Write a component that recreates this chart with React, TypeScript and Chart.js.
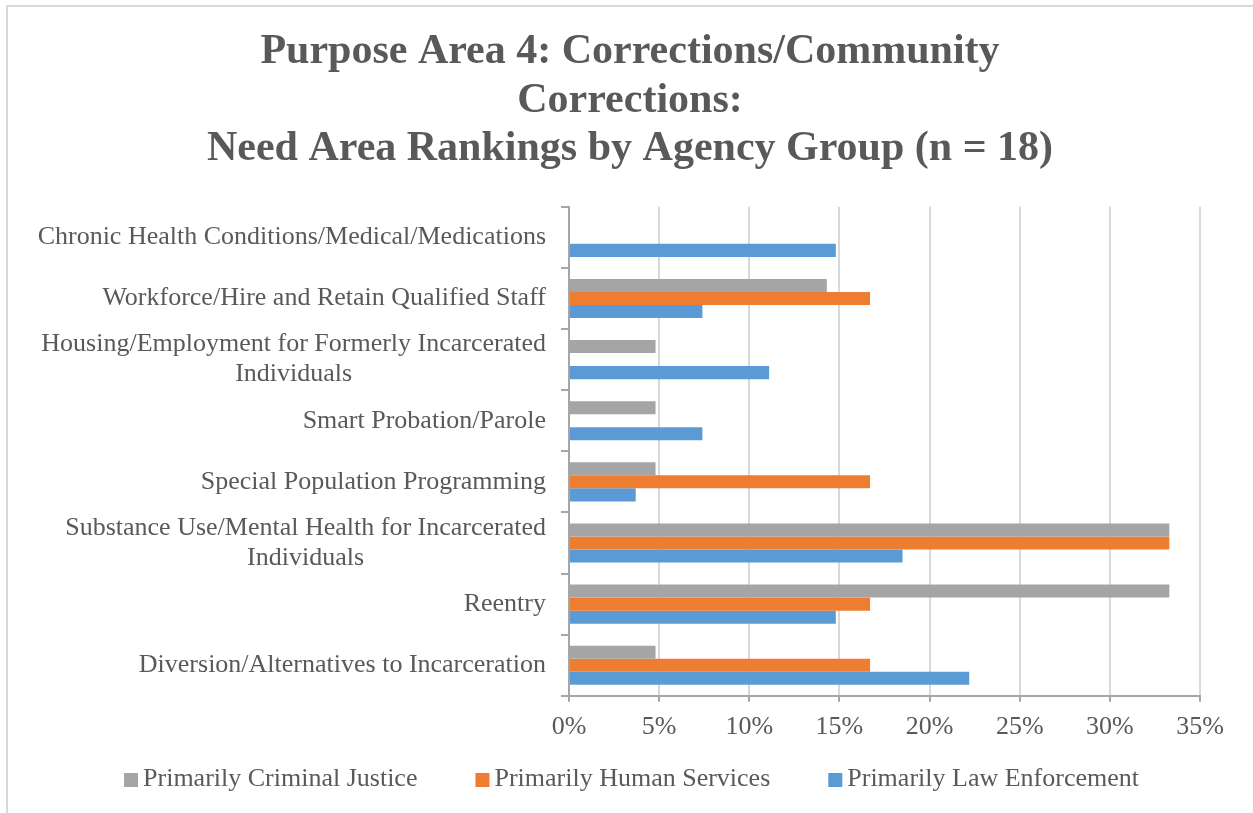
import React, { useEffect, useRef } from 'react';
import { Chart, registerables } from 'chart.js';

Chart.register(...registerables);

const titleLines = [
  'Purpose Area 4: Corrections/Community',
  'Corrections:',
  'Need Area Rankings by Agency Group (n = 18)',
];

const categories: string[][] = [
  ['Chronic Health Conditions/Medical/Medications'],
  ['Workforce/Hire and Retain Qualified Staff'],
  ['Housing/Employment for Formerly Incarcerated', 'Individuals'],
  ['Smart Probation/Parole'],
  ['Special Population Programming'],
  ['Substance Use/Mental Health for Incarcerated', 'Individuals'],
  ['Reentry'],
  ['Diversion/Alternatives to Incarceration'],
];

const seriesNames = [
  'Primarily Criminal Justice',
  'Primarily Human Services',
  'Primarily Law Enforcement',
];

// values in percent
const criminalJustice = [0, 14.3, 4.8, 4.8, 4.8, 33.3, 33.3, 4.8];
const humanServices = [0, 16.7, 0, 0, 16.7, 33.3, 16.7, 16.7];
const lawEnforcement = [14.8, 7.4, 11.1, 7.4, 3.7, 18.5, 14.8, 22.2];

const xMin = 0;
const xMax = 35;
const xStep = 5;

const seriesColors = ['#A5A5A5', '#ED7D31', '#5B9BD5'];

const FONT = "'Liberation Serif', 'Times New Roman', serif";
const TEXT = '#595959';
const AXIS = '#A6A6A6';
const GRID = '#D9D9D9';

const decorPlugin = {
  id: 'decor',
  beforeDraw(chart: any) {
    const { ctx, width, height } = chart;
    ctx.save();
    ctx.fillStyle = '#ffffff';
    ctx.fillRect(0, 0, width, height);
    ctx.strokeStyle = GRID;
    ctx.lineWidth = 2;
    ctx.beginPath();
    ctx.moveTo(7, height);
    ctx.lineTo(7, 6);
    ctx.lineTo(width, 6);
    ctx.stroke();
    ctx.restore();
  },
  afterDraw(chart: any) {
    const { ctx, chartArea, width } = chart;
    const yScale = chart.scales.y;
    ctx.save();
    ctx.font = `26px ${FONT}`;
    ctx.fillStyle = TEXT;
    ctx.textBaseline = 'middle';
    ctx.textAlign = 'center';
    const right = chartArea.left - 23;
    (chart.data.labels as string[][]).forEach((lines, i) => {
      const cy = yScale.getPixelForTick(i);
      const w = Math.max(...lines.map((l) => ctx.measureText(l).width));
      const cx = right - w / 2;
      lines.forEach((l, j) => {
        ctx.fillText(l, cx, cy + (j - (lines.length - 1) / 2) * 30);
      });
    });

    // legend
    const items = chart.data.datasets.map((ds: any) => ({
      text: ds.label as string,
      color: ds.backgroundColor as string,
    }));
    const box = 14;
    const gapText = 5;
    const gapItem = 58;
    const widths = items.map((it: any) => box + gapText + ctx.measureText(it.text).width);
    const total = widths.reduce((a: number, b: number) => a + b, 0) + gapItem * (items.length - 1);
    let x = width / 2 + 5 - total / 2;
    const ly = 779;
    ctx.textAlign = 'left';
    items.forEach((it: any, k: number) => {
      ctx.fillStyle = it.color;
      ctx.fillRect(x, ly - 6, box, box);
      ctx.fillStyle = TEXT;
      ctx.fillText(it.text, x + box + gapText, ly);
      x += widths[k] + gapItem;
    });
    ctx.restore();
  },
};

export default function App() {
  const canvasRef = useRef<HTMLCanvasElement | null>(null);

  useEffect(() => {
    if (!canvasRef.current) return;
    const chart = new Chart(canvasRef.current, {
      type: 'bar',
      data: {
        labels: categories as any,
        datasets: [
          { label: seriesNames[0], data: criminalJustice, backgroundColor: seriesColors[0] },
          { label: seriesNames[1], data: humanServices, backgroundColor: seriesColors[1] },
          { label: seriesNames[2], data: lawEnforcement, backgroundColor: seriesColors[2] },
        ].map((d) => ({ ...d, categoryPercentage: 0.64, barPercentage: 1, borderWidth: 0 })),
      },
      options: {
        indexAxis: 'y',
        responsive: false,
        animation: false,
        layout: { padding: { left: 60, right: 53, top: 0, bottom: 60 } },
        plugins: {
          legend: { display: false },
          tooltip: { enabled: false },
          title: {
            display: true,
            text: titleLines,
            color: TEXT,
            font: { family: FONT, size: 42, weight: 'bold', lineHeight: 1.157 },
            padding: { top: 28, bottom: 33 },
          },
        },
        scales: {
          x: {
            type: 'linear',
            min: xMin,
            max: xMax,
            ticks: {
              stepSize: xStep,
              callback: (v: any) => `${v}%`,
              color: TEXT,
              font: { family: FONT, size: 26 },
              padding: 10,
            },
            grid: {
              color: (c: any) => (c.index === 0 ? 'rgba(0,0,0,0)' : GRID),
              lineWidth: 2,
              tickColor: AXIS,
              tickLength: 6,
            },
            border: { color: AXIS, width: 2 },
          },
          y: {
            ticks: { display: false },
            grid: { drawOnChartArea: false, tickColor: AXIS, tickLength: 8, lineWidth: 2 },
            border: { color: AXIS, width: 2 },
            afterFit: (s: any) => {
              s.width = 509;
            },
          },
        },
      },
      plugins: [decorPlugin],
    } as any);
    return () => chart.destroy();
  }, []);

  return (
    <div style={{ position: 'absolute', left: 0, top: 0, width: 1253, height: 813 }}>
      <canvas ref={canvasRef} width={1253} height={813} style={{ display: 'block' }} />
    </div>
  );
}
